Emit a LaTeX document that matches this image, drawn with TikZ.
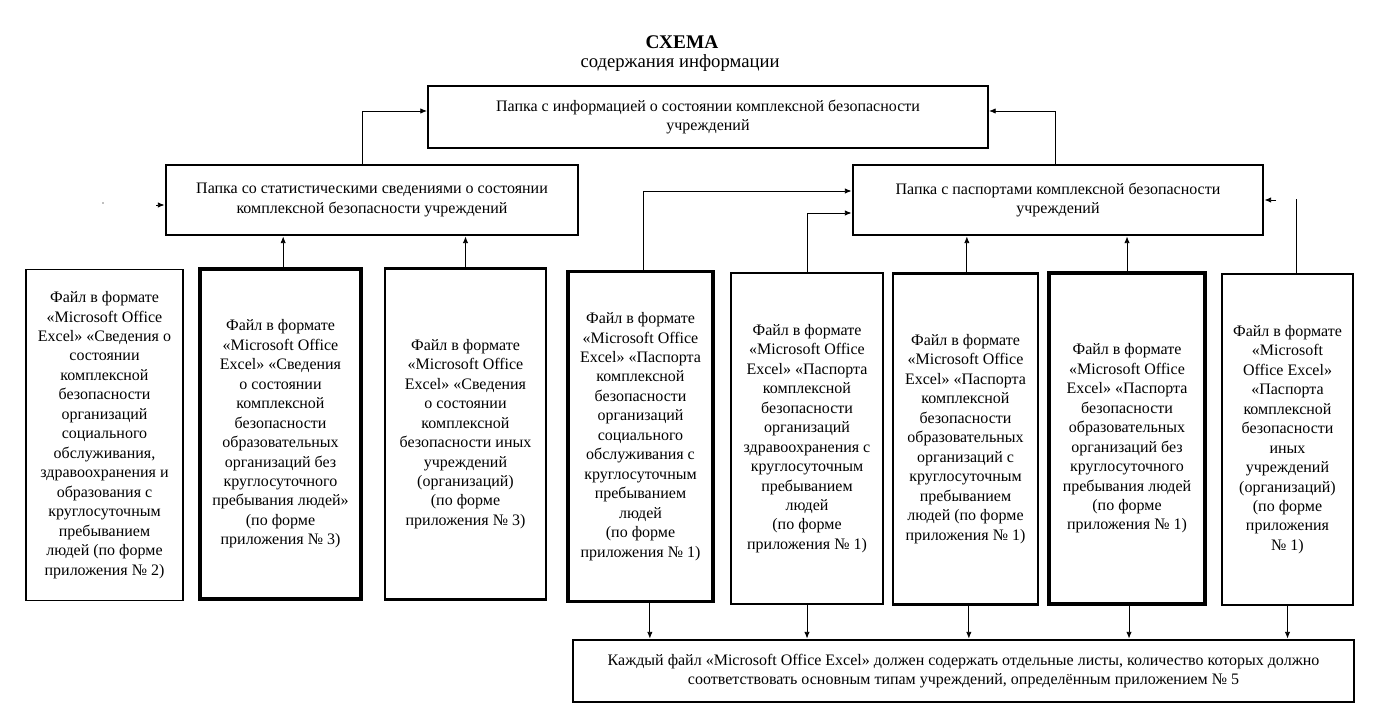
\documentclass[tikz,border=0pt]{standalone}
\usepackage{fontspec}
\setmainfont{Liberation Serif}
\usetikzlibrary{arrows.meta}

\begin{document}
\begin{tikzpicture}[x=0.75pt,y=0.75pt,yscale=-1,xscale=1,
  box/.style={draw, align=center, inner sep=2pt, font=\fontsize{12}{14.6}\selectfont},
  filebox/.style={box, minimum height=248pt},
  arr/.style={-{Latex[length=5pt,width=4pt]}, line width=0.6pt}]

\useasboundingbox (0,0) rectangle (1374,720);

% title
\node [font=\fontsize{14.5}{16}\selectfont\bfseries] (title) at (682,42) {СХЕМА};
\node [font=\fontsize{14}{16}\selectfont] (subtitle) at (680,63) {содержания информации};

% folders
\node [box, line width=1.5pt, minimum width=420pt, minimum height=46.5pt] (top) at (708,117)
  {Папка с информацией о состоянии комплексной безопасности\\учреждений};
\node [box, line width=2.2pt, minimum width=309pt, minimum height=52.5pt] (midl) at (372,200)
  {Папка со статистическими сведениями о состоянии\\комплексной безопасности учреждений};
\node [box, line width=2.2pt, minimum width=307.5pt, minimum height=52.5pt] (midr) at (1058,200)
  {Папка с паспортами комплексной безопасности\\учреждений};

% files
\node [filebox, line width=1.2pt, minimum width=117.75pt] (file1) at (104.5,435)
  {Файл в формате\\«Microsoft Office\\Excel» «Сведения о\\состоянии\\комплексной\\безопасности\\организаций\\социального\\обслуживания,\\здравоохранения и\\образования с\\круглосуточным\\пребыванием\\людей (по форме\\приложения № 2)};
\node [filebox, line width=3pt, minimum width=120.75pt] (file2) at (280.5,434)
  {Файл в формате\\«Microsoft Office\\Excel» «Сведения\\о состоянии\\комплексной\\безопасности\\образовательных\\организаций  без\\круглосуточного\\пребывания людей»\\(по форме\\приложения № 3)};
\node [filebox, line width=2pt, minimum width=120.75pt] (file3) at (465.5,434)
  {Файл в формате\\«Microsoft Office\\Excel» «Сведения\\о состоянии\\комплексной\\безопасности иных\\учреждений\\(организаций)\\(по форме\\приложения № 3)};
\node [filebox, line width=2.4pt, minimum width=108.75pt] (file4) at (640.5,436.5)
  {Файл в формате\\«Microsoft Office\\Excel» «Паспорта\\комплексной\\безопасности\\организаций\\социального\\обслуживания с\\круглосуточным\\пребыванием\\людей\\(по форме\\приложения № 1)};
\node [filebox, line width=2pt, minimum width=114pt] (file5) at (807,438.5)
  {Файл в формате\\«Microsoft Office\\Excel» «Паспорта\\комплексной\\безопасности\\организаций\\здравоохранения с\\круглосуточным\\пребыванием\\людей\\(по форме\\приложения № 1)};
\node [filebox, line width=2pt, minimum width=108.75pt] (file6) at (965.5,439)
  {Файл в формате\\«Microsoft Office\\Excel» «Паспорта\\комплексной\\безопасности\\образовательных\\организаций с\\круглосуточным\\пребыванием\\людей (по форме\\приложения № 1)};
\node [filebox, line width=2.8pt, minimum width=117pt] (file7) at (1127,438.5)
  {Файл в формате\\«Microsoft Office\\Excel» «Паспорта\\безопасности\\образовательных\\организаций без\\круглосуточного\\пребывания людей\\(по форме\\приложения № 1)};
\node [filebox, line width=1.6pt, minimum width=98.25pt] (file8) at (1287.5,439.5)
  {Файл в формате\\«Microsoft\\Office Excel»\\«Паспорта\\комплексной\\безопасности\\иных\\учреждений\\(организаций)\\(по форме\\приложения\\№ 1)};

\node [box, line width=2.2pt, minimum width=585.75pt, minimum height=46.5pt] (bottom) at (963.5,671)
  {Каждый файл «Microsoft Office Excel» должен содержать отдельные листы, количество которых должно\\соответствовать основным типам учреждений, определённым приложением № 5};

% up to the main folder
\draw [arr] ([xshift=-7.5pt]midl.north) |- ([yshift=-4.5pt]top.west);
\draw [arr] ([xshift=-2.25pt]midr.north) |- ([yshift=-4.5pt]top.east);

% statistics
\draw [arr] ([xshift=2pt]file2.north) -- ([xshift=2pt]file2.north |- midl.south);
\draw [arr] (file3.north) -- (file3.north |- midl.south);
\coordinate (stubl) at (156,205);
\draw [arr] (stubl) -- (stubl -| midl.west);
\fill [gray] (103,203) circle (0.7pt);

% passports
\draw [arr] ([xshift=2pt]file4.north) |- ([yshift=-6.75pt]midr.west);
\draw [arr] (file5.north) |- ([yshift=9.75pt]midr.west);
\draw [arr] ([xshift=1pt]file6.north) -- ([xshift=1pt]file6.north |- midr.south);
\draw [arr] (file7.north) -- (file7.north |- midr.south);
\coordinate (stubr) at (1276,200);
\draw [arr] (stubr) -- (stubr -| midr.east);
\coordinate (linetop) at (1296,199);
\draw [line width=0.6pt] (linetop |- file8.north) -- (linetop);

% down to the note
\draw [arr] ([xshift=7pt]file4.south) -- ([xshift=7pt]file4.south |- bottom.north);
\draw [arr] (file5.south) -- (file5.south |- bottom.north);
\draw [arr] ([xshift=2.5pt]file6.south) -- ([xshift=2.5pt]file6.south |- bottom.north);
\draw [arr] ([xshift=1.5pt]file7.south) -- ([xshift=1.5pt]file7.south |- bottom.north);
\draw [arr] (file8.south) -- (file8.south |- bottom.north);

\end{tikzpicture}
\end{document}
